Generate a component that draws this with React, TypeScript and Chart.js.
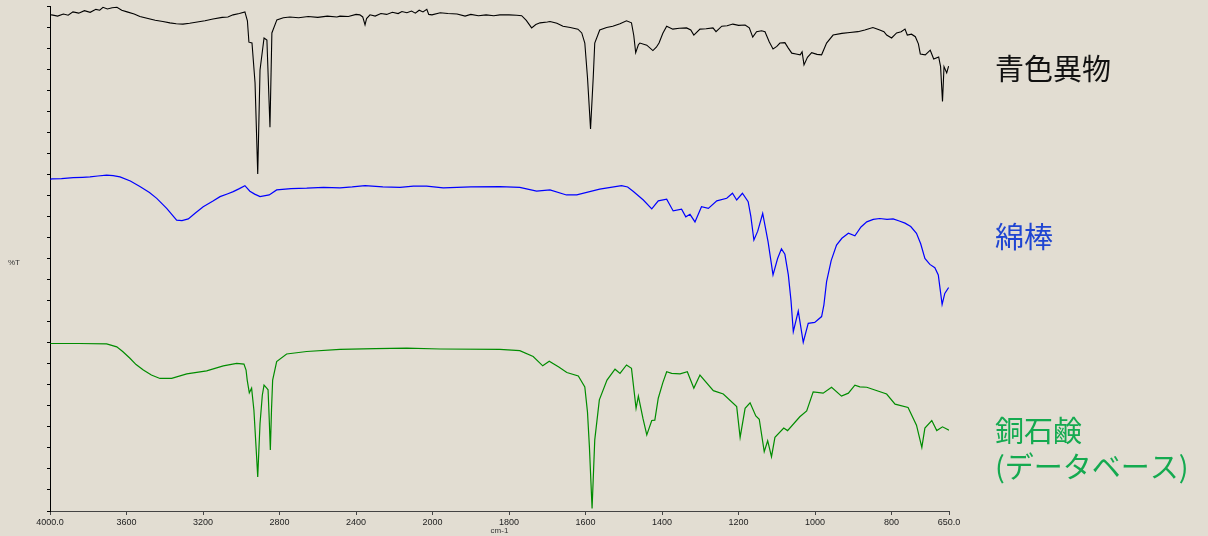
import React, { useEffect, useRef } from 'react';
import { Chart, registerables, LinearScale } from 'chart.js';

Chart.register(...registerables);

// ---- Axis definition -------------------------------------------------------
// Wavenumber axis runs 4000 -> 650 cm-1, with the 2000-650 region drawn at
// twice the scale of the 4000-2000 region (usual FT-IR presentation).
const WN_HIGH = 4000;
const WN_BREAK = 2000;
const WN_LOW = 650;

const X_TICK_VALUES = [4000, 3600, 3200, 2800, 2400, 2000, 1800, 1600, 1400, 1200, 1000, 800, 650];
const X_TICK_LABELS = ['4000.0', '3600', '3200', '2800', '2400', '2000', '1800', '1600', '1400', '1200', '1000', '800', '650.0'];
const X_TITLE = 'cm-1';
const Y_TITLE = '%T';

// ---- Spectra (wavenumber cm-1, %T offset stack) ----------------------------
const foreignWavenumbers = [
  3998, 3991, 3960, 3930, 3905, 3880, 3850, 3820, 3790, 3760, 3740, 3723, 3700, 3675, 3650, 3625,
  3597, 3560, 3530, 3493, 3450, 3410, 3373, 3340, 3305, 3270, 3230, 3190, 3148, 3100, 3070, 3043,
  3010, 2981, 2968, 2960, 2944, 2928, 2914, 2902, 2881, 2866, 2850, 2840, 2814, 2780, 2746, 2700,
  2650, 2600, 2550, 2500, 2484, 2440, 2400, 2380, 2365, 2353, 2345, 2327, 2300, 2270, 2240, 2210,
  2180, 2160, 2134, 2110, 2090, 2070, 2050, 2030, 2020, 2003, 1980, 1960, 1936, 1915, 1900, 1880,
  1860, 1840, 1824, 1800, 1780, 1767, 1755, 1741, 1730, 1719, 1700, 1693, 1675, 1659, 1640, 1620,
  1610, 1602, 1595, 1587, 1580, 1576, 1563, 1545, 1529, 1510, 1493, 1480, 1474, 1469, 1462, 1458,
  1440, 1424, 1415, 1408, 1398, 1388, 1372, 1355, 1336, 1325, 1317, 1301, 1285, 1267, 1259, 1244,
  1230, 1215, 1200, 1183, 1172, 1163, 1153, 1140, 1131, 1120, 1110, 1100, 1092, 1079, 1070, 1061,
  1050, 1039, 1034, 1029, 1020, 1009, 995, 983, 970, 953, 930, 909, 888, 870, 849, 840,
  831, 820, 813, 800, 787, 775, 765, 759, 748, 738, 730, 725, 712, 699, 690, 677,
  672, 667, 663, 656, 651,
];
const foreignTransmittance = [
  117.8, 117.9, 117.6, 118.1, 117.8, 118.6, 118.3, 118.9, 118.5, 119.2, 119.0, 119.7, 119.3, 119.6, 119.7, 119.0,
  118.6, 118.1, 117.5, 117.1, 116.6, 116.3, 116.0, 115.8, 115.7, 115.9, 116.2, 116.5, 116.9, 117.3, 117.4, 117.9,
  118.2, 118.6, 116.5, 111.4, 111.2, 101.7, 80.1, 104.8, 112.4, 111.9, 91.2, 113.6, 116.7, 117.2, 117.4, 117.2,
  117.5, 117.3, 117.6, 117.4, 117.6, 117.5, 118.0, 117.9, 117.4, 115.5, 117.0, 117.9, 117.6, 118.2, 118.0, 118.5,
  118.2, 118.7, 118.4, 118.8, 118.3, 119.0, 118.6, 119.2, 118.0, 117.9, 118.4, 118.2, 118.1, 117.6, 118.0, 117.7,
  117.9, 117.7, 117.9, 117.9, 117.8, 117.7, 116.6, 114.8, 115.6, 116.0, 116.2, 116.3, 115.9, 115.2, 114.9, 114.5,
  113.6, 111.2, 103.0, 90.8, 103.0, 111.2, 114.3, 114.9, 115.2, 115.8, 116.5, 116.0, 113.0, 108.9, 110.8, 111.2,
  110.7, 109.4, 110.2, 111.2, 113.5, 115.2, 114.5, 114.7, 114.8, 114.3, 113.1, 114.5, 114.6, 114.8, 113.9, 115.2,
  115.3, 115.7, 115.4, 115.5, 114.8, 112.6, 113.9, 114.1, 113.9, 111.5, 109.8, 110.4, 111.2, 111.3, 110.0, 108.8,
  108.6, 108.4, 109.1, 106.0, 107.8, 108.9, 108.5, 108.4, 111.2, 113.1, 113.5, 113.7, 113.9, 114.3, 114.9, 114.6,
  114.3, 113.9, 113.1, 112.4, 113.6, 113.9, 114.5, 113.1, 113.3, 112.7, 111.0, 108.6, 108.4, 109.5, 107.4, 107.9,
  105.6, 97.3, 105.6, 104.1, 105.7,
];

const swabWavenumbers = [
  3998, 3991, 3940, 3878, 3830, 3791, 3750, 3704, 3670, 3634, 3580, 3530, 3480, 3442, 3390, 3338,
  3310, 3277, 3240, 3199, 3150, 3111, 3070, 3042, 3010, 2981, 2955, 2930, 2902, 2854, 2815, 2740,
  2658, 2570, 2484, 2420, 2353, 2260, 2170, 2100, 2031, 1972, 1900, 1824, 1772, 1728, 1693, 1650,
  1623, 1563, 1506, 1490, 1475, 1449, 1427, 1410, 1388, 1371, 1349, 1338, 1327, 1314, 1297, 1279,
  1257, 1231, 1216, 1205, 1190, 1175, 1168, 1160, 1150, 1137, 1123, 1110, 1098, 1088, 1079, 1070,
  1063, 1057, 1044, 1031, 1018, 1001, 983, 977, 970, 958, 944, 930, 913, 896, 880, 865,
  848, 831, 812, 796, 780, 765, 750, 735, 724, 713, 700, 687, 678, 668, 661, 651,
];
const swabTransmittance = [
  78.8, 78.9, 79.0, 79.2, 79.3, 79.4, 79.6, 79.8, 79.7, 79.4, 78.4, 77.1, 75.7, 74.3, 71.9, 69.1,
  69.0, 69.4, 70.8, 72.3, 73.6, 74.7, 75.4, 75.9, 76.6, 77.3, 76.0, 75.3, 74.7, 75.1, 76.3, 76.6,
  76.7, 76.9, 76.8, 77.0, 77.3, 77.0, 76.9, 77.2, 77.2, 76.8, 77.0, 77.1, 76.9, 76.0, 76.3, 75.1,
  75.1, 76.5, 77.3, 77.0, 75.9, 73.9, 71.8, 73.7, 74.1, 71.3, 71.7, 69.9, 70.5, 68.7, 72.3, 71.9,
  73.7, 74.3, 75.5, 73.9, 75.5, 73.5, 70.0, 64.4, 66.5, 70.7, 64.0, 56.1, 60.0, 62.3, 61.0, 56.1,
  50.0, 42.6, 47.5, 40.1, 44.6, 44.8, 46.2, 49.0, 54.5, 59.5, 63.2, 64.8, 66.0, 65.4, 67.5, 68.7,
  69.3, 69.5, 69.3, 69.4, 68.9, 68.4, 67.6, 66.0, 63.5, 60.0, 58.6, 57.8, 56.1, 49.1, 51.7, 53.1,
];

const copperSoapWavenumbers = [
  3998, 3991, 3850, 3704, 3651, 3620, 3582, 3550, 3512, 3470, 3425, 3364, 3285, 3181, 3094, 3024,
  2986, 2975, 2969, 2958, 2946, 2934, 2920, 2914, 2908, 2902, 2890, 2881, 2867, 2860, 2854, 2848,
  2842, 2836, 2815, 2763, 2658, 2484, 2300, 2135, 1980, 1824, 1772, 1737, 1712, 1695, 1670, 1649,
  1619, 1602, 1595, 1590, 1583, 1576, 1564, 1544, 1523, 1510, 1493, 1480, 1468, 1462, 1450, 1440,
  1427, 1419, 1410, 1398, 1388, 1375, 1353, 1334, 1317, 1301, 1266, 1240, 1205, 1196, 1183, 1170,
  1155, 1146, 1133, 1124, 1114, 1105, 1082, 1072, 1040, 1022, 1005, 979, 957, 931, 913, 896,
  883, 865, 813, 791, 757, 735, 721, 713, 695, 682, 667, 650,
];
const copperSoapTransmittance = [
  39.8, 39.8, 39.8, 39.7, 39.0, 37.9, 36.3, 34.8, 33.5, 32.3, 31.5, 31.5, 32.6, 33.3, 34.5, 35.1,
  34.9, 33.5, 31.1, 28.1, 29.2, 24.0, 13.0, 8.1, 14.5, 20.8, 27.5, 29.9, 29.2, 28.8, 22.0, 14.5,
  24.0, 31.1, 35.5, 37.3, 37.9, 38.4, 38.6, 38.7, 38.5, 38.4, 38.1, 36.7, 34.5, 35.6, 34.2, 32.9,
  32.1, 29.5, 23.5, 15.3, 0.6, 16.9, 26.4, 31.1, 33.7, 32.7, 34.7, 33.9, 24.4, 27.3, 22.0, 18.1,
  21.5, 21.6, 26.8, 30.5, 33.1, 32.7, 32.6, 33.1, 29.2, 32.3, 28.6, 27.8, 24.8, 17.5, 24.4, 25.7,
  22.6, 21.8, 14.1, 16.7, 12.9, 17.5, 19.7, 19.1, 22.4, 23.8, 28.3, 28.0, 29.4, 27.3, 28.0, 29.9,
  29.5, 29.4, 27.8, 25.4, 24.6, 20.4, 15.1, 19.7, 21.5, 19.1, 20.0, 19.2,
];

const SAMPLE_NAMES = ['青色異物', '綿棒', '銅石鹸'];
const DATABASE_NOTE = '(データベース)';
const TRACE_COLORS = ['#000000', '#0000ff', '#008c00'];
const LABEL_COLORS = ['#111111', '#1f45d2', '#14aa50'];

// Axis position in "units": the high-wavenumber half counts at half weight.
const HALF_SPAN = (WN_HIGH - WN_BREAK) / 2;
function axisPosition(wn: number): number {
  return wn >= WN_BREAK ? (WN_HIGH - wn) / 2 : HALF_SPAN + (WN_BREAK - wn);
}
const AXIS_SPAN = axisPosition(WN_LOW);

class SplitWavenumberScale extends LinearScale {
  static id = 'splitWavenumber';
  static defaults = LinearScale.defaults;

  buildTicks() {
    (this as any).start = (this as any).min;
    (this as any).end = (this as any).max;
    return X_TICK_VALUES.map((value) => ({ value }));
  }

  getPixelForValue(value: number) {
    if (value === null || value === undefined || isNaN(value)) return NaN;
    return (this as any).getPixelForDecimal(axisPosition(value) / AXIS_SPAN);
  }

  getValueForPixel(pixel: number) {
    const u = (this as any).getDecimalForPixel(pixel) * AXIS_SPAN;
    return u <= HALF_SPAN ? WN_HIGH - 2 * u : WN_BREAK - (u - HALF_SPAN);
  }
}
Chart.register(SplitWavenumberScale as any);

function toPoints(xs: number[], ys: number[]) {
  return xs.map((x, i) => ({ x, y: ys[i] }));
}

const labelPlugin = {
  id: 'sampleLabels',
  afterDraw(chart: any) {
    const { ctx } = chart;
    ctx.save();
    ctx.textAlign = 'left';
    ctx.textBaseline = 'middle';
    ctx.fillStyle = '#333333';
    ctx.font = '8px "Liberation Sans", Arial, sans-serif';
    ctx.fillText(Y_TITLE, 8, 263);

    ctx.font = '29px "Noto Sans CJK JP", sans-serif';
    const rows: [string, string, number][] = [
      [SAMPLE_NAMES[0], LABEL_COLORS[0], 69],
      [SAMPLE_NAMES[1], LABEL_COLORS[1], 237],
      [SAMPLE_NAMES[2], LABEL_COLORS[2], 431],
      [DATABASE_NOTE, LABEL_COLORS[2], 467],
    ];
    rows.forEach(([text, color, y]) => {
      ctx.fillStyle = color;
      ctx.fillText(text, 995, y);
    });
    ctx.restore();
  },
};

export default function App() {
  const canvasRef = useRef<HTMLCanvasElement | null>(null);

  useEffect(() => {
    const canvas = canvasRef.current;
    if (!canvas) return;
    Chart.defaults.font.family = '"Liberation Sans", Arial, sans-serif';

    const chart = new Chart(canvas, {
      type: 'line',
      data: {
        datasets: [
          { label: SAMPLE_NAMES[0], data: toPoints(foreignWavenumbers, foreignTransmittance), borderColor: TRACE_COLORS[0], borderWidth: 1.1 },
          { label: SAMPLE_NAMES[1], data: toPoints(swabWavenumbers, swabTransmittance), borderColor: TRACE_COLORS[1], borderWidth: 1.2 },
          { label: SAMPLE_NAMES[2] + ' ' + DATABASE_NOTE, data: toPoints(copperSoapWavenumbers, copperSoapTransmittance), borderColor: TRACE_COLORS[2], borderWidth: 1.2 },
        ],
      },
      options: {
        responsive: false,
        animation: false,
        parsing: true,
        elements: { point: { radius: 0 }, line: { tension: 0, fill: false } },
        layout: { padding: { top: 6, right: 259, left: 0, bottom: 0 } },
        plugins: { legend: { display: false }, tooltip: { enabled: false } },
        scales: {
          x: {
            type: 'splitWavenumber' as any,
            min: WN_LOW,
            max: WN_HIGH,
            afterFit: (scale: any) => { scale.height = 25; },
            border: { display: true, color: '#444444', width: 1 },
            grid: { drawOnChartArea: false, drawTicks: true, tickLength: 4, color: '#444444' },
            ticks: {
              autoSkip: false,
              maxRotation: 0,
              padding: 2,
              color: '#222222',
              font: { size: 9 },
              callback: (_v: any, i: number) => X_TICK_LABELS[i],
            },
            title: { display: true, text: X_TITLE, color: '#333333', font: { size: 8 }, padding: 0 },
          },
          y: {
            type: 'linear',
            min: 0,
            max: 120,
            afterFit: (scale: any) => { scale.width = 50; },
            border: { display: true, color: '#000000', width: 1 },
            grid: { drawOnChartArea: false, drawTicks: true, tickLength: 3, color: '#000000' },
            ticks: { stepSize: 5, display: false },
          },
        },
      } as any,
      plugins: [labelPlugin],
    });

    return () => chart.destroy();
  }, []);

  return (
    <div style={{ position: 'fixed', left: 0, top: 0, width: 1208, height: 536, background: '#e2ddd2' }}>
      <canvas ref={canvasRef} width={1208} height={536} style={{ display: 'block' }} />
    </div>
  );
}
